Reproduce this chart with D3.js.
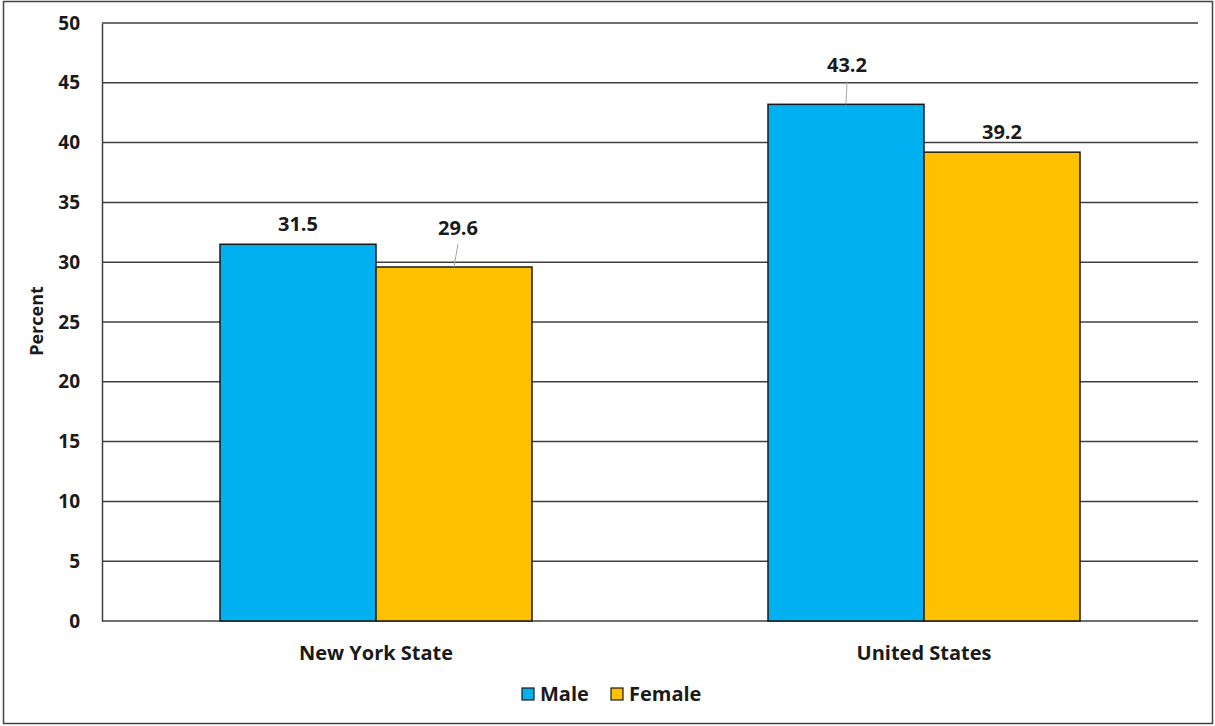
<!DOCTYPE html>
<html lang="en">
<head>
    <meta charset="UTF-8">
    <title>Percent by sex</title>
    <script src="https://d3js.org/d3.v7.min.js"></script>
    <style>
        body {
            margin: 0;
            padding: 0;
            background: #fff;
            font-family: "Open Sans", Arial, sans-serif;
        }
        svg {
            display: block;
        }
        text {
            font-weight: bold;
            fill: #1a1a1a;
        }
    </style>
</head>
<body>
    <svg id="chart" width="1215" height="726"></svg>

    <script>
        // Data
        const categories = ["New York State", "United States"];
        const series = ["Male", "Female"];
        const maleValues = [31.5, 43.2];
        const femaleValues = [29.6, 39.2];
        const yTicks = [0, 5, 10, 15, 20, 25, 30, 35, 40, 45, 50];
        const colors = ["#00B0F0", "#FFC000"];
        // labels pushed up with leader lines in the original
        const labelShift = { "New York State": [0, 19], "United States": [19, 0] };

        const margin = { top: 23, right: 17, bottom: 105, left: 102 };
        const width = 1215 - margin.left - margin.right;
        const height = 726 - margin.top - margin.bottom;

        const svg = d3.select("#chart");

        // outer frame
        svg.append("rect")
            .attr("x", 3.5).attr("y", 1.5)
            .attr("width", 1209).attr("height", 722)
            .attr("fill", "none")
            .attr("stroke", "#444")
            .attr("stroke-width", 1.5);

        const g = svg.append("g")
            .attr("transform", `translate(${margin.left},${margin.top})`);

        const x0 = d3.scaleBand()
            .domain(categories)
            .range([0, width]);

        const x1 = d3.scaleBand()
            .domain(series)
            .range([x0.bandwidth() / 2 - 156, x0.bandwidth() / 2 + 156]);

        const y = d3.scaleLinear()
            .domain([0, 50])
            .range([height, 0]);

        // gridlines
        g.append("g")
            .selectAll("line")
            .data(yTicks)
            .enter()
            .append("line")
            .attr("x1", 0)
            .attr("x2", width)
            .attr("y1", d => y(d))
            .attr("y2", d => y(d))
            .attr("stroke", "#404040")
            .attr("stroke-width", 1.5);

        // y axis
        const yAxis = g.append("g")
            .call(d3.axisLeft(y).tickValues(yTicks).tickSize(0).tickPadding(22));
        yAxis.select(".domain").attr("stroke", "#404040").attr("stroke-width", 1.5);
        yAxis.selectAll("text")
            .attr("font-size", 19)
            .attr("font-family", "Open Sans")
            .attr("font-weight", "bold")
            .attr("fill", "#1a1a1a");

        g.append("text")
            .attr("transform", "rotate(-90)")
            .attr("x", -height / 2 + 1)
            .attr("y", -59)
            .attr("text-anchor", "middle")
            .attr("font-size", 18)
            .text("Percent");

        // bars
        const data = categories.map((c, i) => ({
            category: c,
            values: [
                { key: "Male", value: maleValues[i] },
                { key: "Female", value: femaleValues[i] }
            ]
        }));

        const groups = g.selectAll(".grp")
            .data(data)
            .enter()
            .append("g")
            .attr("class", "grp")
            .attr("transform", d => `translate(${x0(d.category)},0)`);

        groups.selectAll("rect")
            .data(d => d.values)
            .enter()
            .append("rect")
            .attr("x", d => x1(d.key))
            .attr("y", d => y(d.value))
            .attr("width", x1.bandwidth())
            .attr("height", d => height - y(d.value))
            .attr("fill", (d, i) => colors[i])
            .attr("stroke", "#1a1a1a")
            .attr("stroke-width", 1.5);

        // value labels with leader lines
        groups.each(function (d) {
            const grp = d3.select(this);
            d.values.forEach((v, i) => {
                const cx = x1(v.key) + x1.bandwidth() / 2;
                const shift = labelShift[d.category][i];
                const ly = y(v.value) - 13 - shift;
                const dx = i === 1 ? 4 : 1;
                if (shift > 0) {
                    grp.append("line")
                        .attr("x1", cx + dx)
                        .attr("y1", ly + 9)
                        .attr("x2", cx)
                        .attr("y2", y(v.value))
                        .attr("stroke", "#a6a6a6")
                        .attr("stroke-width", 1);
                }
                grp.append("text")
                    .attr("x", cx + (shift > 0 ? dx : 0))
                    .attr("y", ly)
                    .attr("text-anchor", "middle")
                    .attr("font-size", 20)
                    .text(v.value.toFixed(1));
            });
        });

        // category labels
        g.selectAll(".cat")
            .data(categories)
            .enter()
            .append("text")
            .attr("class", "cat")
            .attr("x", d => x0(d) + x0.bandwidth() / 2)
            .attr("y", height + 39)
            .attr("text-anchor", "middle")
            .attr("font-size", 20)
            .text(d => d);

        // legend
        const legend = svg.append("g")
            .attr("transform", "translate(522,688)");
        const legendX = [0, 89];
        series.forEach((s, i) => {
            legend.append("rect")
                .attr("x", legendX[i])
                .attr("y", 0)
                .attr("width", 12)
                .attr("height", 12)
                .attr("fill", colors[i])
                .attr("stroke", "#1a1a1a")
                .attr("stroke-width", 1.2);
            legend.append("text")
                .attr("x", legendX[i] + 18)
                .attr("y", 13)
                .attr("font-size", 20)
                .text(s);
        });
    </script>
</body>
</html>
